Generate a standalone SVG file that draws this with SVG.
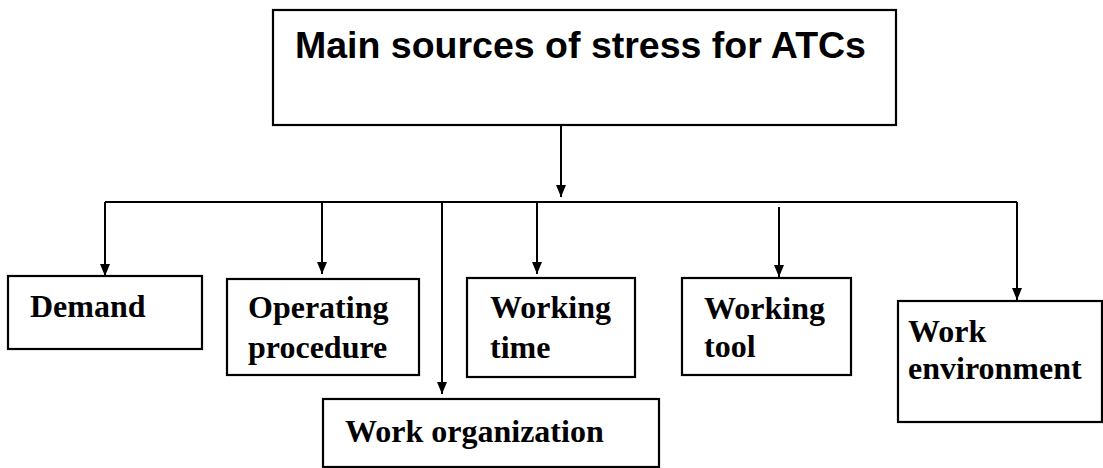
<svg xmlns="http://www.w3.org/2000/svg" width="1103" height="468" viewBox="0 0 1103 468">
<style>
.box{fill:#fff;stroke:#000;stroke-width:2.2}
.lbl{font-family:"Liberation Serif","Times New Roman",serif;font-weight:bold;font-size:32px;fill:#000}
.title{font-family:"Liberation Sans",Arial,sans-serif;font-weight:bold;font-size:37.5px;fill:#000}
.ln{stroke:#000;stroke-width:2;fill:none}
</style>
<defs>
<marker id="ah" viewBox="0 0 12 10" refX="12" refY="5" markerWidth="12" markerHeight="10" markerUnits="userSpaceOnUse" orient="auto">
<path d="M0,0 L12,5 L0,10 Z" fill="#000"/>
</marker>
</defs>
<g id="connectors">
<line class="ln" x1="561" y1="125" x2="561" y2="197" marker-end="url(#ah)"/>
<line class="ln" x1="105" y1="202" x2="1017" y2="202"/>
<line class="ln" x1="105" y1="202" x2="105" y2="276" marker-end="url(#ah)"/>
<line class="ln" x1="322" y1="202" x2="322" y2="274" marker-end="url(#ah)"/>
<line class="ln" x1="442" y1="202" x2="442" y2="394" marker-end="url(#ah)"/>
<line class="ln" x1="537" y1="202" x2="537" y2="274" marker-end="url(#ah)"/>
<line class="ln" x1="779" y1="207" x2="779" y2="277" marker-end="url(#ah)"/>
<line class="ln" x1="1017" y1="202" x2="1017" y2="300" marker-end="url(#ah)"/>
</g>
<g id="main">
<rect class="box" x="273" y="10" width="623" height="115"/>
<text class="title" x="295" y="58">Main sources of stress for ATCs</text>
</g>
<g id="demand">
<rect class="box" x="8" y="276" width="194" height="73"/>
<text class="lbl" x="30" y="317">Demand</text>
</g>
<g id="operating">
<rect class="box" x="227" y="279" width="192" height="96"/>
<text class="lbl" x="248" y="318">Operating</text>
<text class="lbl" x="248" y="358">procedure</text>
</g>
<g id="workorg">
<rect class="box" x="323" y="399" width="336" height="68"/>
<text class="lbl" x="345" y="442">Work organization</text>
</g>
<g id="worktime">
<rect class="box" x="467" y="278" width="168" height="99"/>
<text class="lbl" x="490" y="318">Working</text>
<text class="lbl" x="490" y="358">time</text>
</g>
<g id="worktool">
<rect class="box" x="682" y="278" width="169" height="97"/>
<text class="lbl" x="704" y="319">Working</text>
<text class="lbl" x="704" y="357">tool</text>
</g>
<g id="workenv">
<rect class="box" x="898" y="301" width="204" height="121"/>
<text class="lbl" x="908" y="342">Work</text>
<text class="lbl" x="908" y="379">environment</text>
</g>
</svg>
